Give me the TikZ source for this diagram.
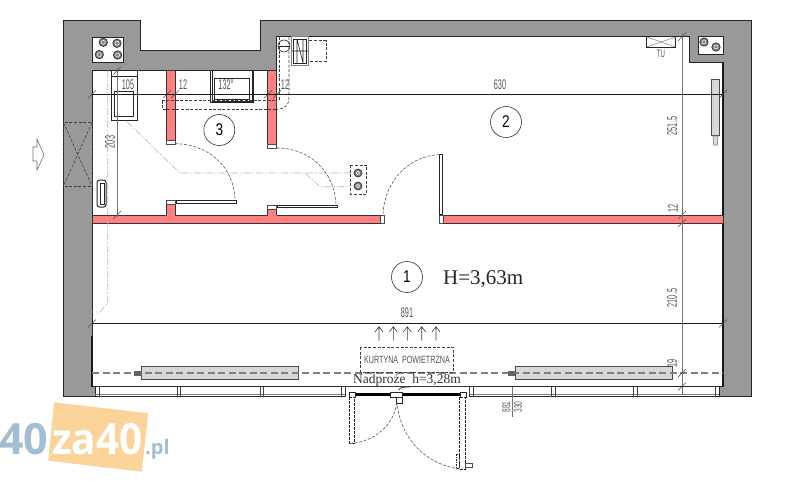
\documentclass[tikz,border=0pt]{standalone}
\usepackage{fontspec}
\setmainfont{Liberation Sans}
\newfontfamily\serifplan{Liberation Serif}
\newfontfamily\markfont{Open Sans}
\newcommand{\narrowtxt}[2][0.52]{\scalebox{#1}[1]{#2}}
\definecolor{wallgray}{HTML}{999999}
\definecolor{redwall}{HTML}{FF8080}
\definecolor{heatgray}{HTML}{D8D8D8}
\definecolor{markblue}{HTML}{A3BED2}
\definecolor{markorange}{HTML}{FBD49B}
\definecolor{dimtext}{HTML}{555555}
\tikzset{
  wallline/.style={draw=black!85,line width=0.8pt},
  thinline/.style={draw=black!85,line width=0.6pt},
  dimline/.style={draw=black!90,line width=0.6pt},
  dimgray/.style={draw=black!55,line width=0.7pt},
  tickmark/.style={draw=black!70,line width=0.5pt},
  dashline/.style={draw=black!75,line width=0.6pt,dash pattern=on 3pt off 1.6pt},
  swing/.style={draw=black!65,line width=0.6pt,dash pattern=on 3pt off 1.6pt},
  pipeline/.style={draw=black!28,line width=0.6pt,dash pattern=on 7pt off 2pt on 1.5pt off 2pt},
  curtain/.style={draw=black!50,line width=1.1pt,dash pattern=on 7pt off 3.5pt},
  dimlabel/.style={text=dimtext,font=\fontsize{14}{14}\selectfont,inner sep=0pt},
  roomcircle/.style={draw=black!80,line width=0.6pt,circle,minimum size=31pt,inner sep=0pt,font=\fontsize{17}{17}\selectfont,fill=white},
  fixcircle/.style={draw=black!80,fill=black!50,line width=0.7pt},
  capbox/.style={draw=black!70,fill=white,line width=0.5pt},
  heater/.style={draw=black!70,fill=heatgray,line width=0.8pt},
}
\begin{document}
\begin{tikzpicture}[x=1pt,y=-1pt]
\useasboundingbox (0,0) rectangle (800,480);
\fill[white] (0,0) rectangle (800,480);

% watermark
\fill[markorange] (54,402.3) -- (148.3,413.3) -- (141.7,471.7) -- (48.3,460.7) -- cycle;
\node[anchor=base west,inner sep=0pt,text=markblue,font=\markfont\bfseries\fontsize{43}{43}\selectfont] (mark40) at (-1,454) {40};
\node[anchor=base west,inner sep=0pt,text=white,font=\markfont\bfseries\fontsize{43}{43}\selectfont] (markza) at (52,454) {\scalebox{0.94}[1]{za40}};
\node[anchor=base west,inner sep=0pt,text=markblue,font=\markfont\bfseries\fontsize{20}{20}\selectfont] (markpl) at (145,454) {.pl};

% main wall
\path[fill=wallgray,even odd rule,wallline]
  (63.5,20) -- (140,20) -- (140,50) -- (260,50) -- (260,20) -- (751,20) -- (751,396.7) -- (719,396.7) -- (719,386.5) -- (723,386.5)
  -- (723,62) -- (689,62) -- (689,36.7) -- (276.7,36.7) -- (276.7,70.7) -- (92,70.7) -- (92,386.5) -- (95,386.5) -- (95,396.7) -- (63.5,396.7) -- cycle;
\draw[draw=black!90,line width=1.1pt] (92,336) -- (92,386.5) (723,62) -- (723,386.5);
% shafts
\filldraw[fill=white,wallline] (92.5,37) rectangle (123,62);
\filldraw[fill=white,wallline] (698,36.7) rectangle (723.5,54);
\foreach \cx/\cy in {103.3/42.3,117/43.3,99.3/54.6,117.6/55,704/42,716/47}{
  \filldraw[fixcircle] (\cx,\cy) circle (4.2);
  \draw[white,line width=0.5pt] (\cx,\cy) circle (2);
}

% window in left wall
\draw[dashline] (63.5,122.7) rectangle (92,186);
\draw[dashline] (63.5,122.7) -- (92,186) (92,122.7) -- (63.5,186);

% entrance arrow
\draw[draw=black!55,line width=0.6pt,fill=white] (33,147) -- (37,147) -- (37,139) -- (44,155) -- (37,170) -- (37,161) -- (33,161) -- cycle;

% red walls
\filldraw[fill=redwall,draw=black!80,line width=0.6pt] (92,215) rectangle (380,223);
\filldraw[fill=redwall,draw=black!80,line width=0.6pt] (443,215) rectangle (723,223);
\filldraw[fill=redwall,draw=black!80,line width=0.6pt] (166.7,70.7) rectangle (175,140);
\filldraw[fill=redwall,draw=black!80,line width=0.6pt] (267.7,70.7) rectangle (276.7,144);
\fill[redwall] (166.7,204) rectangle (175,215.6);
\fill[redwall] (267.7,209) rectangle (276.7,215.6);
\draw[draw=black!80,line width=0.6pt] (166.7,215) -- (166.7,204) (175,215) -- (175,204) (267.7,215) -- (267.7,209) (276.7,215) -- (276.7,209);
\draw[capbox] (166.7,140) rectangle (175,144);
\draw[capbox] (267.7,144) rectangle (276.7,148);
\draw[capbox] (166.7,200) rectangle (175,204);
\draw[capbox] (267.7,205) rectangle (276.7,209);
\draw[capbox] (380,215) rectangle (384,223);
\draw[capbox] (439,215) rectangle (443,223);

% doors
\draw[capbox,draw=black!85] (176,200.6) rectangle (236,203);
\draw[capbox,draw=black!85] (277,205) rectangle (337,207.2);
\draw[capbox,draw=black!85] (439.6,154) rectangle (442,214);
\draw[swing] (175,143.7) .. controls (208,144) and (234,166) .. (235,200);
\draw[swing] (277,148) .. controls (310,148) and (335,172) .. (336,205);
\draw[swing] (439.6,154.5) .. controls (408,156) and (384,182) .. (383,215);

% service pipes
\draw[pipeline] (107.7,70.7) -- (107.7,303) -- (100,312) -- (92,312);
\draw[pipeline] (118,113) -- (180,173) -- (350.7,173);
\draw[pipeline] (305,173) -- (320,186.7) -- (350.7,186.7);

% sink
\draw[thinline,fill=white] (111.7,70.7) rectangle (137.3,120);
\draw[thinline] (114,91.7) rectangle (133,116.7);
\draw[thinline] (111.7,76) -- (137.3,76);
% counter
\draw[thinline] (210.7,70.7) rectangle (253.3,102.3);
\draw[thinline] (212,70.7) -- (212,101) -- (252,101) -- (252,70.7);
\draw[thinline] (214.3,78.3) rectangle (249.3,99.3);
% hood
\draw[dashline] (162,100.7) rectangle (276.7,109.3);
\draw[dashline] (279,37) -- (279,100);
\draw[dashline] (289,37) -- (289,98) .. controls (289,105) and (285,109) .. (276.7,109.3);
% boiler
\draw[thinline] (284,46) circle (6);
\draw[thinline] (278,46) -- (290,46);
\draw[dashline] (308,40.7) rectangle (326,61.7);
\draw[thinline,draw=black!50] (291.7,36.7) rectangle (308.3,65);
\draw[thinline] (293.5,39) rectangle (306,63);
\draw[thinline] (297,39) -- (297,63) (297,39) -- (303,63) (303,39) -- (303,63) (291.7,51) -- (308.3,51);
% wall-mounted fixtures
\draw[dashline] (350.7,165) rectangle (366.7,194);
\foreach \cx/\cy in {358/173,358/186}{
  \filldraw[fixcircle] (\cx,\cy) circle (4);
  \draw[white,line width=0.5pt] (\cx,\cy) circle (1.8);
}
% left radiator
\draw[draw=black!85,line width=1pt,rounded corners=2.5pt] (97,180) rectangle (106,207);
\draw[thinline] (100,183) rectangle (104,204);
% TU box
\draw[thinline] (646.7,36.7) rectangle (675.7,47.3);
\draw[draw=black!50,line width=0.5pt] (646.7,37) -- (675.7,47) (646.7,47) -- (675.7,37);
\node[dimlabel] (tulabel) at (661,54) {\narrowtxt[0.55]{\fontsize{11}{11}\selectfont TU}};
% right heater
\draw[heater] (711.7,79) rectangle (719.3,135.7);
\draw[draw=black!50,fill=black!15,line width=0.6pt] (713,136) -- (718,136) -- (717.3,145) -- (713.7,145) -- cycle;

% curtain line and horizontal heaters
\draw[heater] (141.7,366.7) rectangle (298.3,379);
\draw[heater] (515,366.7) rectangle (672,379);
\draw[curtain] (92,373) -- (723,373);
\fill[black!60] (133.5,371) rectangle (141.7,375.5);
\fill[black!60] (508,371) rectangle (515,375.5);

% dimensions
\draw[dimline] (92,94.3) -- (723,94.3);
\draw[dimline] (92,323.5) -- (723,323.5);
\draw[dimgray] (117,68) -- (117,217);
\draw[dimgray] (682,34) -- (682,394);
\foreach \tx/\ty in {92/94.3,167/94.3,175/94.3,268/94.3,277/94.3,723/94.3,92/323.5,723/323.5,117/70.7,117/215,682/36.7,682/215,682/223,682/373,682/386.5}{
  \draw[tickmark] (\tx-4,\ty+4) -- (\tx+4,\ty-4);
}
\node[dimlabel] (d105) at (128,85) {\narrowtxt{105}};
\node[dimlabel] (d12a) at (183,85) {\narrowtxt{12}};
\node[dimlabel] (d132) at (226,85) {\narrowtxt{132°}};
\node[dimlabel] (d12b) at (285,85) {\narrowtxt{12}};
\node[dimlabel] (d630) at (500,85) {\narrowtxt{630}};
\node[dimlabel] (d891) at (407,313) {\narrowtxt{891}};
\node[dimlabel,rotate=90] (d203) at (110,142) {\narrowtxt{203}};
\node[dimlabel,rotate=90] (d251) at (672,126) {\narrowtxt{251.5}};
\node[dimlabel,rotate=90] (d12c) at (673,208) {\narrowtxt{12}};
\node[dimlabel,rotate=90] (d210) at (672,298) {\narrowtxt{210.5}};
\node[dimlabel,rotate=90] (d19) at (672,363) {\narrowtxt{19}};

% storefront
\draw[draw=black!85,line width=0.7pt] (95,386.5) -- (719,386.5);
\draw[draw=black!50,line width=0.6pt] (95,394) -- (345,394) (469,394) -- (719,394);
\draw[draw=black!85,line width=0.7pt] (95,396.7) -- (345,396.7) (469,396.7) -- (719,396.7);
\foreach \mx in {99.3,177,180.7,260,263.7,341.7,345.5,469,473,551.7,555.5,633.3,637,715.7}{
  \draw[draw=black!75,line width=0.6pt] (\mx,386.5) -- (\mx,396.7);
}
\draw[dimgray] (512,386.5) -- (512,417);
\node[dimlabel,rotate=90] (d881) at (506,407) {\narrowtxt[0.6]{\fontsize{11}{11}\selectfont 881}};
\node[dimlabel,rotate=90] (d330) at (518,407) {\narrowtxt[0.6]{\fontsize{11}{11}\selectfont 330}};

% entrance doors
\draw[line width=2.2pt,black] (355,394.5) -- (390,394.5) (402,394.5) -- (460,394.5);
\draw[capbox,draw=black!85] (349,392) rectangle (355,397);
\draw[capbox,draw=black!85] (390,392) rectangle (402,397);
\draw[capbox,draw=black!85] (460,392) rectangle (466,397);
\draw[capbox,draw=black!85] (396,397) rectangle (402,403);
\draw[draw=black!80,line width=0.8pt] (399,390) .. controls (400,387) and (404,387) .. (410,387);
\draw[capbox,draw=black!85,dash pattern=on 3pt off 1pt] (349.5,397) rectangle (354.5,443);
\draw[capbox,draw=black!85,dash pattern=on 3pt off 1pt] (459.5,397) rectangle (465,469);
\draw[swing] (350,443.5) .. controls (375,442) and (394,425) .. (397,402);
\draw[swing] (459.5,469) .. controls (425,464) and (400,438) .. (397,402);
\draw[capbox] (465,463) rectangle (472,467);
\draw[thinline,dash pattern=on 1.5pt off 1pt] (456,454) rectangle (459,468);

% slab line
\draw[dashline] (346,386.5) -- (468,386.5);

% curtain box
\draw[dashline,line width=0.7pt] (360.7,347) rectangle (453,372.7);
\node[dimlabel] (curtainlabel) at (407,360) {\narrowtxt[0.68]{\fontsize{10.5}{10.5}\selectfont KURTYNA\ \ POWIETRZNA}};
\node[inner sep=0pt,fill=white,font=\serifplan\fontsize{13.5}{13.5}\selectfont,text=black!80] (nadproze) at (407,380) {Nadproże\ \ h=3,28m};
\foreach \ax in {379,393.3,407.3,421.7,436}{
  \draw[draw=black!75,line width=0.6pt] (\ax,340.7) -- (\ax,326.7) (\ax-4,332) -- (\ax,326.7) -- (\ax+4,332);
}

% room labels
\node[roomcircle] (room3) at (219.3,130) {\scalebox{0.8}[1]{3}};
\node[roomcircle] (room2) at (506,122) {\scalebox{0.8}[1]{2}};
\node[roomcircle] (room1) at (407,277) {\scalebox{0.8}[1]{1}};
\node[anchor=west,inner sep=0pt,font=\serifplan\fontsize{21}{21}\selectfont,text=black!85] (height) at (443,279) {H=3,63m};
\end{tikzpicture}
\end{document}
